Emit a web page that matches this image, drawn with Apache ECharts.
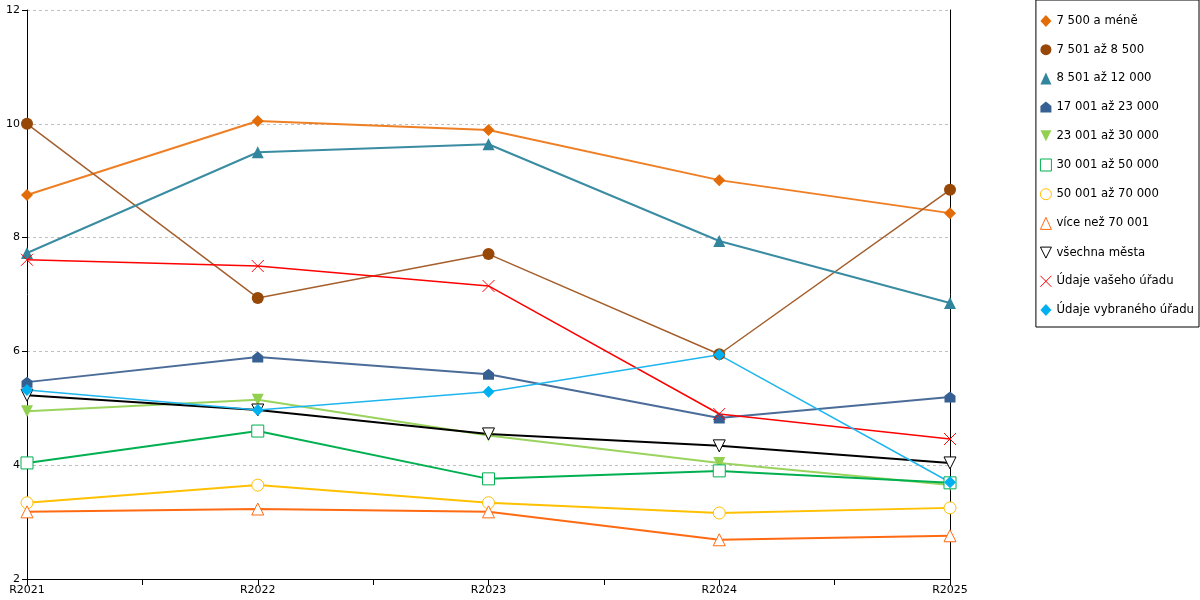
<!DOCTYPE html>
<html>
<head>
<meta charset="utf-8">
<script src="https://cdn.jsdelivr.net/npm/echarts@6/dist/echarts.min.js"></script>
<style>
  html, body { margin: 0; padding: 0; background: #fff; }
  #chart { width: 1200px; height: 600px; }
</style>
</head>
<body>
<div id="chart"></div>
<script>
// roky na ose x
var years = ['R2021', 'R2022', 'R2023', 'R2024', 'R2025'];
var yTicks = [2, 4, 6, 8, 10, 12];

// hodnoty jednotlivých skupin
var do7500 = [8.75, 10.05, 9.89, 9.01, 8.43];
var od7501 = [10.0, 6.94, 7.71, 5.95, 8.84];
var od8501 = [7.73, 9.50, 9.64, 7.94, 6.85];
var od17001 = [5.46, 5.90, 5.60, 4.83, 5.20];
var od23001 = [4.95, 5.15, 4.52, 4.04, 3.65];
var od30001 = [4.04, 4.60, 3.76, 3.90, 3.69];
var od50001 = [3.34, 3.65, 3.34, 3.16, 3.25];
var nad70001 = [3.18, 3.23, 3.18, 2.69, 2.76];
var vsechnaMesta = [5.23, 4.97, 4.55, 4.34, 4.04];
var vasUrad = [7.61, 7.50, 7.15, 4.90, 4.46];
var vybranyUrad = [5.32, 4.97, 5.29, 5.94, 3.70];

var crossPath = 'path://M0,0 L10,10 M10,0 L0,10';
var housePath = 'path://M5,0 L10,4 L10,10 L0,10 L0,4 Z';
var triDownPath = 'path://M0,0 L10,0 L5,10 Z';

function pts(arr) {
    return arr.map(function (v, i) { return [i, v]; });
}

function line(name, data, opt) {
    var item = opt.hollow
        ? { color: '#fff', borderColor: opt.color, borderWidth: 1 }
        : { color: opt.color, borderColor: opt.color, borderWidth: opt.cross ? 1 : 0 };
    return {
        name: name,
        type: 'line',
        data: pts(data),
        symbol: opt.symbol,
        symbolSize: opt.size || 11,
        showAllSymbol: true,
        lineStyle: { color: opt.line || opt.color, width: opt.width || 2 },
        itemStyle: item,
        z: opt.z || 2
    };
}

var series = [
    line('7 500 a méně', do7500, { symbol: 'diamond', color: '#E36C09', line: '#EE7F24', size: 12 }),
    line('7 501 až 8 500', od7501, { symbol: 'circle', color: '#974706', line: '#A55F2C', width: 1.5, size: 12 }),
    line('8 501 až 12 000', od8501, { symbol: 'triangle', color: '#31859C', line: '#3A8CA2', size: 12 }),
    line('17 001 až 23 000', od17001, { symbol: housePath, color: '#376092', line: '#4B6C98' }),
    line('23 001 až 30 000', od23001, { symbol: triDownPath, color: '#92D050', line: '#9AD35E', size: 12 }),
    line('30 001 až 50 000', od30001, { symbol: 'rect', hollow: true, color: '#00B050', size: 12 }),
    line('50 001 až 70 000', od50001, { symbol: 'circle', hollow: true, color: '#FFC000', size: 12 }),
    line('více než 70 001', nad70001, { symbol: 'triangle', hollow: true, color: '#FF6A13', size: 12 }),
    line('všechna města', vsechnaMesta, { symbol: triDownPath, hollow: true, color: '#000000', size: 12 }),
    line('Údaje vašeho úřadu', vasUrad, { symbol: crossPath, cross: true, color: '#FF0000', width: 1.5, size: 12 }),
    line('Údaje vybraného úřadu', vybranyUrad, { symbol: 'diamond', color: '#00B0F0', line: '#1FB5EE', width: 1.5, size: 12 })
];

var chart = echarts.init(document.getElementById('chart'));
chart.setOption({
    animation: false,
    textStyle: { fontFamily: 'DejaVu Sans' },
    grid: { left: 27, right: 250, top: 10, bottom: 21 },
    legend: {
        orient: 'vertical',
        right: 1,
        top: 0,
        padding: [15, 5, 11, 4],
        itemGap: 16.7,
        itemWidth: 11,
        itemHeight: 12,
        backgroundColor: '#fff',
        borderColor: '#000',
        borderWidth: 1,
        textStyle: { fontSize: 11.7, color: '#000', fontFamily: 'DejaVu Sans' },
        data: series.map(function (s) {
            return {
                name: s.name,
                icon: s.symbol,
                itemStyle: {
                    color: s.itemStyle.color,
                    borderColor: s.itemStyle.borderColor,
                    borderWidth: s.itemStyle.borderWidth
                }
            };
        })
    },
    xAxis: {
        type: 'value',
        min: 0,
        max: years.length - 1,
        interval: 0.5,
        splitLine: { show: false },
        axisLine: { lineStyle: { color: '#000' } },
        axisTick: { show: true, length: 6, lineStyle: { color: '#000' } },
        axisLabel: {
            color: '#000',
            fontSize: 11,
            margin: 6,
            showMinLabel: true,
            showMaxLabel: true,
            formatter: function (v) {
                return Number.isInteger(v) ? years[v] : '';
            }
        }
    },
    yAxis: [{
        type: 'value',
        min: yTicks[0],
        max: yTicks[yTicks.length - 1],
        interval: 2,
        axisLine: { show: true, lineStyle: { color: '#000' } },
        axisTick: { show: true, length: 5, lineStyle: { color: '#000' } },
        axisLabel: { color: '#000', fontSize: 11, margin: 7 },
        splitLine: { lineStyle: { color: '#C0C0C0', type: [3, 3] } }
    }, {
        type: 'value',
        position: 'right',
        min: yTicks[0],
        max: yTicks[yTicks.length - 1],
        axisLine: { show: true, lineStyle: { color: '#000' } },
        axisTick: { show: false },
        axisLabel: { show: false },
        splitLine: { show: false }
    }],
    series: series
});
</script>
</body>
</html>
